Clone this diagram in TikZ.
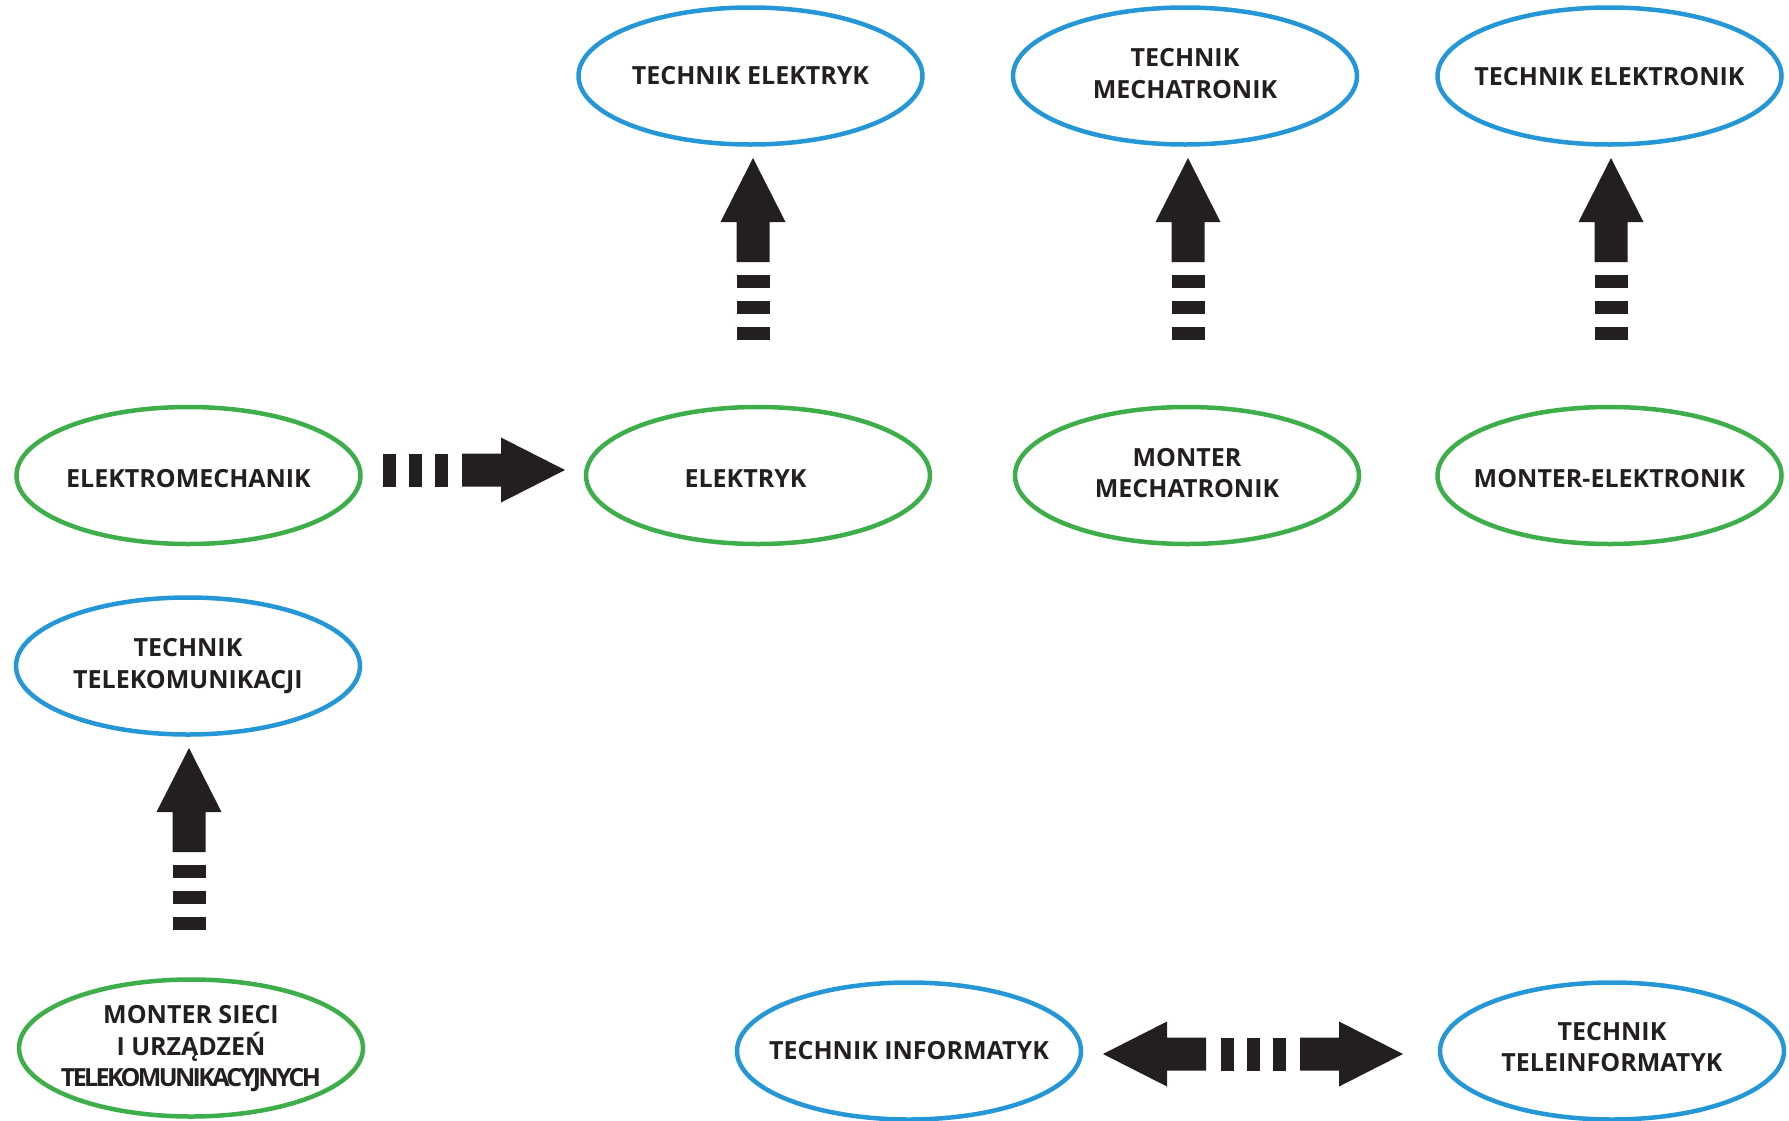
\documentclass[tikz,border=0pt]{standalone}
\usepackage{fontspec}
\setmainfont{Open Sans}
\usetikzlibrary{shapes.geometric}
\definecolor{ink}{HTML}{231F20}
\definecolor{tblue}{HTML}{2596D6}
\definecolor{wgreen}{HTML}{3DAE4A}
\newcommand{\lbl}{\fontsize{25}{31.5}\selectfont\bfseries}
\newcommand{\tightlbl}{\addfontfeatures{LetterSpace=-10.5}}
\begin{document}
\begin{tikzpicture}[x=1pt,y=-1pt,
  oval/.style={ellipse, draw, line width=4.5pt, minimum width=344pt, minimum height=137pt,
    inner sep=0pt},
  tech/.style={oval, draw=tblue},
  work/.style={oval, draw=wgreen},
  lab/.style={inner sep=0pt, align=center, font=\lbl, text=ink},
  uparr/.pic={
    \fill[ink] (0,0) -- (32.5,64) -- (16.5,64) -- (16.5,104) -- (-16.5,104) -- (-16.5,64) -- (-32.5,64) -- cycle;
    \foreach \a in {117,143,169} \fill[ink] (-16.5,\a) rectangle (16.5,\a+13);
  },
  rightarr/.pic={
    \fill[ink] (0,0) -- (-64,-32.5) -- (-64,-16.5) -- (-103,-16.5) -- (-103,16.5) -- (-64,16.5) -- (-64,32.5) -- cycle;
    \foreach \a in {117,143,169} \fill[ink] (-\a,-16.5) rectangle (-\a-13,16.5);
  },
  leftarr/.pic={
    \fill[ink] (0,0) -- (64,-32.5) -- (64,-16.5) -- (103,-16.5) -- (103,16.5) -- (64,16.5) -- (64,32.5) -- cycle;
  }]
\useasboundingbox (0,0) rectangle (1789,1120);

% ovals
\node[tech] (te)  at (750.5,76)  {};
\node[tech] (tm)  at (1185,76)   {};
\node[tech] (tel) at (1609.5,76) {};
\node[work] (em)  at (188.5,475.5)  {};
\node[work] (el)  at (758,475.5)    {};
\node[work] (mm)  at (1187,475.5)   {};
\node[work] (me)  at (1609.5,475.5) {};
\node[tech] (tt)  at (188,666) {};
\node[work] (ms)  at (191,1048) {};
\node[tech] (ti)  at (909,1051) {};
\node[tech] (tti) at (1612,1051) {};

% labels
\node[lab] (te-l)  at (te)  {TECHNIK ELEKTRYK};
\node[lab, yshift=2.5pt] (tm-l) at (tm) {TECHNIK\\MECHATRONIK};
\node[lab, yshift=-1pt] (tel-l) at (tel) {TECHNIK ELEKTRONIK};
\node[lab, yshift=-3.5pt] (em-l) at (em) {ELEKTROMECHANIK};
\node[lab, yshift=-3.5pt, xshift=-12.5pt] (el-l) at (el) {ELEKTRYK};
\node[lab, yshift=2.5pt] (mm-l) at (mm) {MONTER\\MECHATRONIK};
\node[lab, yshift=-3.5pt] (me-l) at (me) {MONTER-ELEKTRONIK};
\node[lab] (tt-l) at (tt) {TECHNIK\\TELEKOMUNIKACJI};
\node[lab, yshift=-1pt] (ms-l) at (ms) {MONTER SIECI\\I URZĄDZEŃ\\{\tightlbl TELEKOMUNIKACYJNYCH}};
\node[lab] (ti-l) at (ti) {TECHNIK INFORMATYK};
\node[lab, yshift=4pt] (tti-l) at (tti) {TECHNIK\\TELEINFORMATYK};

% promotion arrows
\coordinate (a1) at (753,158);
\coordinate (a2) at (1188,158);
\coordinate (a3) at (1611,158);
\coordinate (a4) at (189,748);
\pic at (a1) {uparr};
\pic at (a2) {uparr};
\pic at (a3) {uparr};
\pic at (a4) {uparr};

\coordinate (r1) at (565,470);
\pic at (r1) {rightarr};

% double arrow
\coordinate (dl) at (1103,1054);
\coordinate (dr) at (1403,1054);
\pic at (dl) {leftarr};
\pic at (dr) {rightarr};
\end{tikzpicture}
\end{document}
